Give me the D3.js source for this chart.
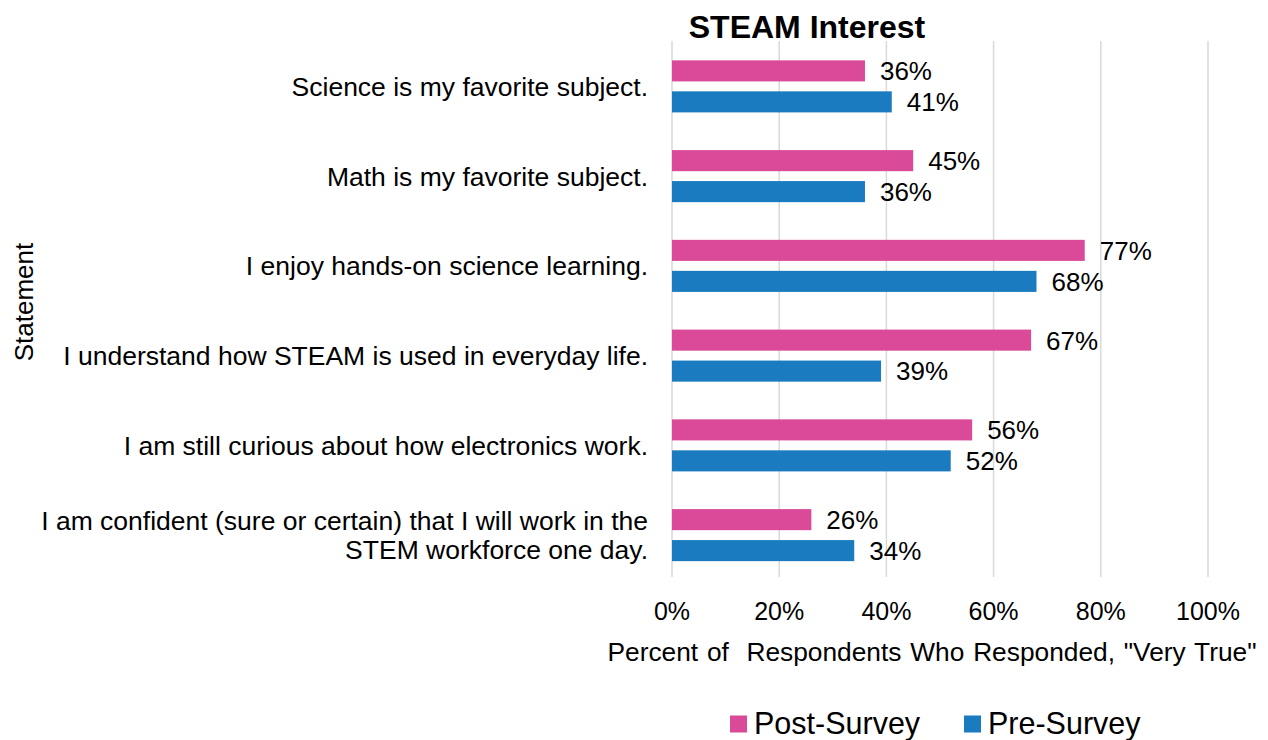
<!DOCTYPE html>
<html>
<head>
<meta charset="utf-8">
<script src="https://cdn.jsdelivr.net/npm/d3@7"></script>
<style>
  html, body { margin: 0; padding: 0; background: #fff; }
  svg { display: block; font-family: "Liberation Sans", Arial, sans-serif; }
</style>
</head>
<body>
<svg id="chart" width="1268" height="740"></svg>
<script>
// Survey statements, top to bottom
const statements = [
  ["Science is my favorite subject."],
  ["Math is my favorite subject."],
  ["I enjoy hands-on science learning."],
  ["I understand how STEAM is used in everyday life."],
  ["I am still curious about how electronics work."],
  ["I am confident (sure or certain) that I will work in the", "STEM workforce one day."]
];
const seriesNames = ["Post-Survey", "Pre-Survey"];
const postSurvey = [36, 45, 77, 67, 56, 26];
const preSurvey  = [41, 36, 68, 39, 52, 34];
const tickValues = [0, 20, 40, 60, 80, 100];

const colors = { "Post-Survey": "#DA4A98", "Pre-Survey": "#1A7BC0" };

const svg = d3.select("#chart");
const plotLeft = 672, plotRight = 1208;
const plotTop = 41, plotBottom = 577;

const rows = statements.map((s, i) => ({
  key: i, lines: s,
  values: [
    { series: "Post-Survey", v: postSurvey[i] },
    { series: "Pre-Survey",  v: preSurvey[i] }
  ]
}));

const x = d3.scaleLinear().domain([0, 100]).range([plotLeft, plotRight]);
const y = d3.scaleBand().domain(rows.map(r => r.key))
  .range([plotTop + 0.5, plotBottom + 3]).paddingInner(0.42).paddingOuter(0.21);
const ySub = d3.scaleBand().domain(seriesNames).range([0, y.bandwidth()]).paddingInner(0.32);

// vertical gridlines
svg.append("g").selectAll("line").data(tickValues).join("line")
  .attr("x1", d => x(d)).attr("x2", d => x(d))
  .attr("y1", plotTop).attr("y2", plotBottom)
  .attr("stroke", "#d9d9d9").attr("stroke-width", 1.5);

// bars and value labels
const groups = svg.append("g").selectAll("g").data(rows).join("g")
  .attr("transform", d => `translate(0,${y(d.key)})`);

groups.selectAll("rect").data(d => d.values).join("rect")
  .attr("x", x(0))
  .attr("y", d => ySub(d.series))
  .attr("width", d => x(d.v) - x(0))
  .attr("height", ySub.bandwidth())
  .attr("fill", d => colors[d.series]);

groups.selectAll("text.val").data(d => d.values).join("text")
  .attr("class", "val")
  .attr("x", d => x(d.v) + 15)
  .attr("y", d => ySub(d.series) + ySub.bandwidth() / 2)
  .attr("dy", "0.36em")
  .attr("font-size", 26)
  .attr("fill", "#000")
  .text(d => d.v + "%");

// category labels
const catLabels = svg.append("g").selectAll("text").data(rows).join("text")
  .attr("text-anchor", "end")
  .attr("font-size", 26.5)
  .attr("fill", "#000")
  .attr("x", 648)
  .attr("y", d => y(d.key) + y.bandwidth() / 2);
catLabels.each(function(d) {
  const t = d3.select(this);
  const n = d.lines.length;
  d.lines.forEach((line, j) => {
    t.append("tspan").attr("x", 648)
      .attr("dy", j === 0 ? `${0.36 - (n - 1) * 0.55}em` : "1.1em")
      .text(line);
  });
});

// x axis tick labels
svg.append("g").selectAll("text").data(tickValues).join("text")
  .attr("x", d => x(d))
  .attr("y", 611)
  .attr("dy", "0.36em")
  .attr("text-anchor", "middle")
  .attr("font-size", 25)
  .text(d => d + "%");

// axis titles
svg.append("text")
  .attr("x", 932).attr("y", 661)
  .attr("text-anchor", "middle").attr("font-size", 26.3)
  .attr("word-spacing", 1.5)
  .attr("xml:space", "preserve")
  .text("Percent of  Respondents Who Responded, \"Very True\"");

svg.append("text")
  .attr("transform", "translate(24,302) rotate(-90)")
  .attr("dy", "0.36em")
  .attr("text-anchor", "middle").attr("font-size", 26)
  .text("Statement");

// title
svg.append("text")
  .attr("x", 807).attr("y", 38)
  .attr("text-anchor", "middle").attr("font-size", 32).attr("font-weight", "bold")
  .text("STEAM Interest");

// legend
const legend = svg.append("g").selectAll("g").data(seriesNames).join("g")
  .attr("transform", (d, i) => `translate(${i === 0 ? 730 : 964},724)`);
legend.append("rect")
  .attr("x", 0).attr("y", -8.5).attr("width", 17).attr("height", 17)
  .attr("fill", d => colors[d]);
legend.append("text")
  .attr("x", 24).attr("y", 9.5)
  .attr("font-size", 30.5)
  .text(d => d);
</script>
</body>
</html>
